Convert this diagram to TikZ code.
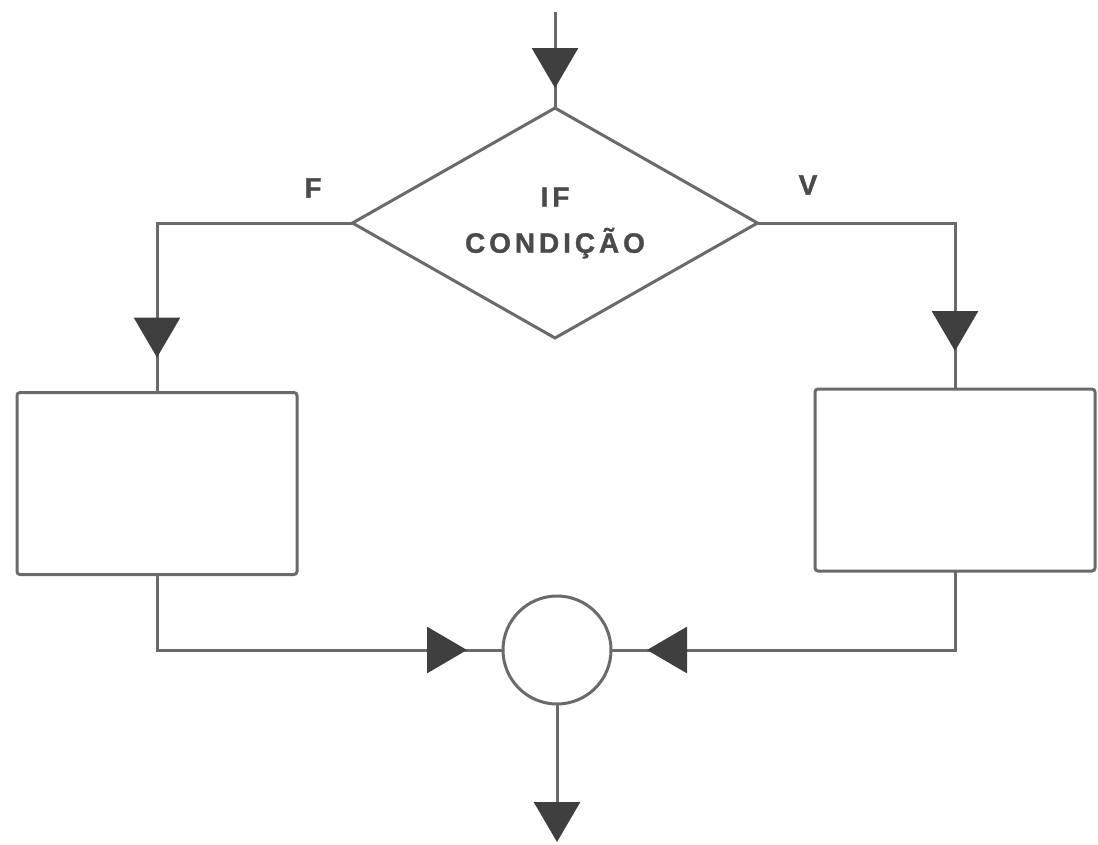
\documentclass[tikz,border=0pt]{standalone}
\usepackage{fontspec}
\setmainfont{Liberation Sans}
\newfontfamily\lblfont[LetterSpace=14,FakeBold=1.2]{Liberation Sans Bold}
\usetikzlibrary{shapes.geometric,arrows.meta,decorations.markings}
\definecolor{linegray}{HTML}{6A6A6A}
\definecolor{tridark}{HTML}{3F3F3F}
\definecolor{txtgray}{HTML}{4A4A4A}
\tikzset{
  conn/.style={draw=linegray, line width=3pt},
  tri/.tip={Triangle[width=46pt,length=40pt,color=tridark]},
  midtri/.style={postaction={decorate}, decoration={markings,
      mark=at position #1 with {\arrow{tri}}}},
  box/.style={draw=linegray, line width=3pt, rectangle, rounded corners=3pt,
      minimum width=280pt, minimum height=182pt, outer sep=0pt, inner sep=0pt},
  lbl/.style={text=txtgray, font=\lblfont\fontsize{28}{46}\selectfont},
  decision/.style={diamond, draw=linegray, line width=3pt, minimum width=405pt,
      minimum height=230pt, shape aspect=1.76, outer sep=0pt, inner sep=0pt,
      align=center},
  joint/.style={circle, draw=linegray, line width=3pt, minimum size=108pt,
      inner sep=0pt, outer sep=0pt}
}
\begin{document}
\begin{tikzpicture}[x=1pt,y=-1pt]
  \useasboundingbox[fill=white] (0,0) rectangle (1098,844);
  \coordinate (start) at (555,12);
  \node[decision, lbl] (cond) at (555,223) {IF\\CONDIÇÃO};
  \node[box] (lbox) at (157,483.5) {};
  \node[box] (rbox) at (955,480) {};
  \node[joint] (join) at (557,650) {};
  \coordinate (finish) at (557,842);
  \node[lbl] (flbl) at (313,188) {F};
  \node[lbl] (vlbl) at (808,185) {V};

  \draw[conn, midtri=-20pt] (start) -- (cond.north);
  \draw[conn, midtri=-35pt] (cond.west) -| (lbox.north);
  \draw[conn, midtri=-38pt] (cond.east) -| (rbox.north);
  \draw[conn, midtri=-36pt] (lbox.south) |- (join.west);
  \draw[conn, midtri=-36pt] (rbox.south) |- (join.east);
  \draw[conn, -{tri}] (join.south) -- (finish);
\end{tikzpicture}
\end{document}
